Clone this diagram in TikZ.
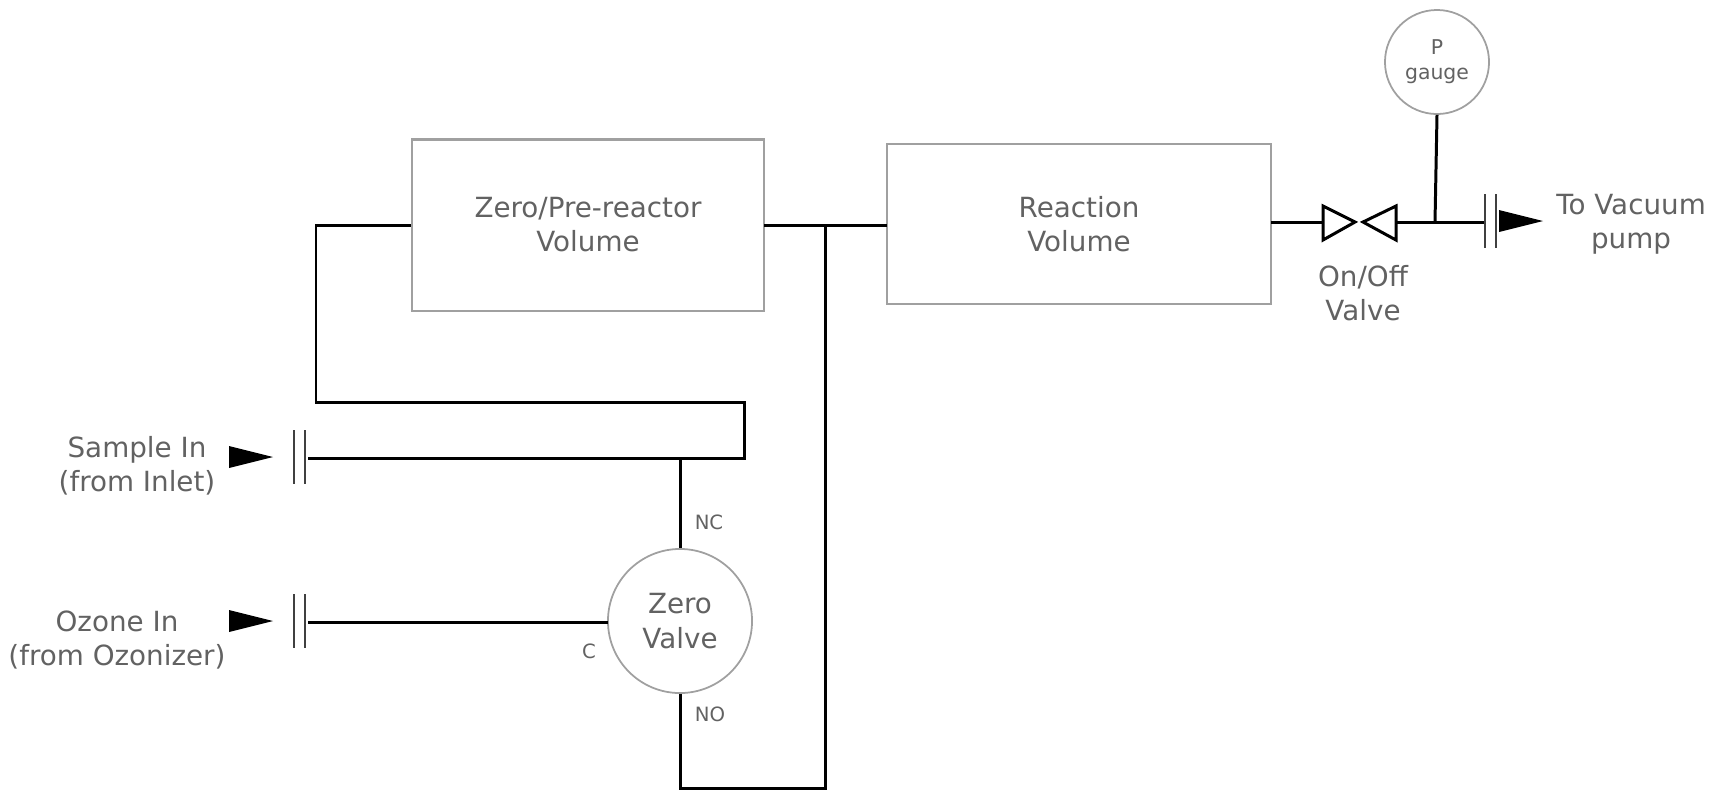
\documentclass[tikz,border=0pt]{standalone}
\usepackage{fontspec}
\setmainfont{DejaVu Sans}
\definecolor{labelgray}{HTML}{626262}
\definecolor{edgegray}{HTML}{A0A0A0}
\tikzset{
  volume/.style={draw=edgegray,line width=0.6pt,inner sep=0pt,align=center,text=labelgray,font=\fontsize{7.9}{9.7}\selectfont},
  roundel/.style={circle,draw=edgegray,line width=0.5pt,inner sep=0pt,align=center,text=labelgray},
  label/.style={inner sep=0pt,align=center,text=labelgray,font=\fontsize{7.9}{9.7}\selectfont},
  portlabel/.style={inner sep=0pt,text=labelgray,font=\fontsize{5.6}{7}\selectfont},
  pipe/.style={line width=0.85pt,line join=miter},
  fitting/.style={line width=0.7pt,black!75},
  flowtip/.style={fill=black},
}
\begin{document}
\begin{tikzpicture}[x=0.01cm,y=-0.01cm]
\useasboundingbox (0,0) rectangle (1721,790);
% Volumes and valves
\node[volume,minimum width=3.52cm,minimum height=1.71cm] (prereactor) at (588,225) {Zero/Pre-reactor\\Volume};
\node[volume,minimum width=3.84cm,minimum height=1.60cm] (reaction) at (1079,224) {Reaction\\Volume};
\node[roundel,minimum size=1.44cm,font=\fontsize{7.9}{9.7}\selectfont] (zerovalve) at (680,621) {Zero\\Valve};
\node[roundel,minimum size=1.04cm,font=\fontsize{5.8}{7.2}\selectfont] (gauge) at (1437,62) {P\\gauge};
% Text labels
\node[label] (samplein) at (137,466) {Sample In\\(from Inlet)};
\node[label] (ozonein) at (117,640) {Ozone In\\(from Ozonizer)};
\node[label] (onoff) at (1363,293) {On/Off\\Valve};
\node[label] (vacuum) at (1631,224) {To Vacuum\\pump};
\node[portlabel] (nc) at (709,522) {NC};
\node[portlabel] (no) at (710,714) {NO};
\node[portlabel] (cport) at (589,651) {C};
% Pipe junctions
\coordinate (leftbend) at (316,225);
\coordinate (upperbend) at (316,402);
\coordinate (rightupper) at (744,402);
\coordinate (rightlower) at (744,458);
\coordinate (sampleend) at (308,458);
\coordinate (nctee) at (680,458);
\coordinate (ozoneend) at (308,622);
\coordinate (ozonezero) at (608,622);
\coordinate (zerotee) at (825,225);
\coordinate (bottomleft) at (680,788);
\coordinate (bottomright) at (825,788);
\coordinate (prereactorout) at (764,225);
\coordinate (reactionin) at (887,225);
\coordinate (reactionout) at (1271,222);
\coordinate (valveleft) at (1323,222);
\coordinate (valveright) at (1396,222);
\coordinate (gaugetee) at (1435,222);
\coordinate (ventend) at (1485,222);
% Pipes
\draw[pipe] (prereactor.west |- leftbend) -- (leftbend) -- (upperbend) -- (rightupper) -- (rightlower) -- (sampleend);
\draw[pipe] (nctee) -- (zerovalve.north);
\draw[pipe] (ozoneend) -- (ozonezero);
\draw[pipe] (zerovalve.south) -- (bottomleft) -- (bottomright) -- (zerotee);
\draw[pipe] (prereactorout) -- (reactionin);
\draw[pipe] (reactionout) -- (valveleft);
\draw[pipe] (valveright) -- (ventend);
\draw[pipe] (gauge.south) -- (gaugetee);
% On/Off valve
\draw[pipe] (1323,206) -- (1355,222) -- (1323,240) -- cycle;
\draw[pipe] (1396,206) -- (1363,222) -- (1396,240) -- cycle;
% Fittings
\foreach \fx/\fy in {294/457, 305/457, 294/621, 305/621, 1485/221, 1496/221}
  \draw[fitting] (\fx,\fy-27) -- (\fx,\fy+27);
% Flow arrows
\foreach \ax/\ay in {229/457, 229/621, 1499/221}
  \fill[flowtip] (\ax,\ay-11) -- (\ax+44,\ay) -- (\ax,\ay+11) -- cycle;
\end{tikzpicture}
\end{document}
